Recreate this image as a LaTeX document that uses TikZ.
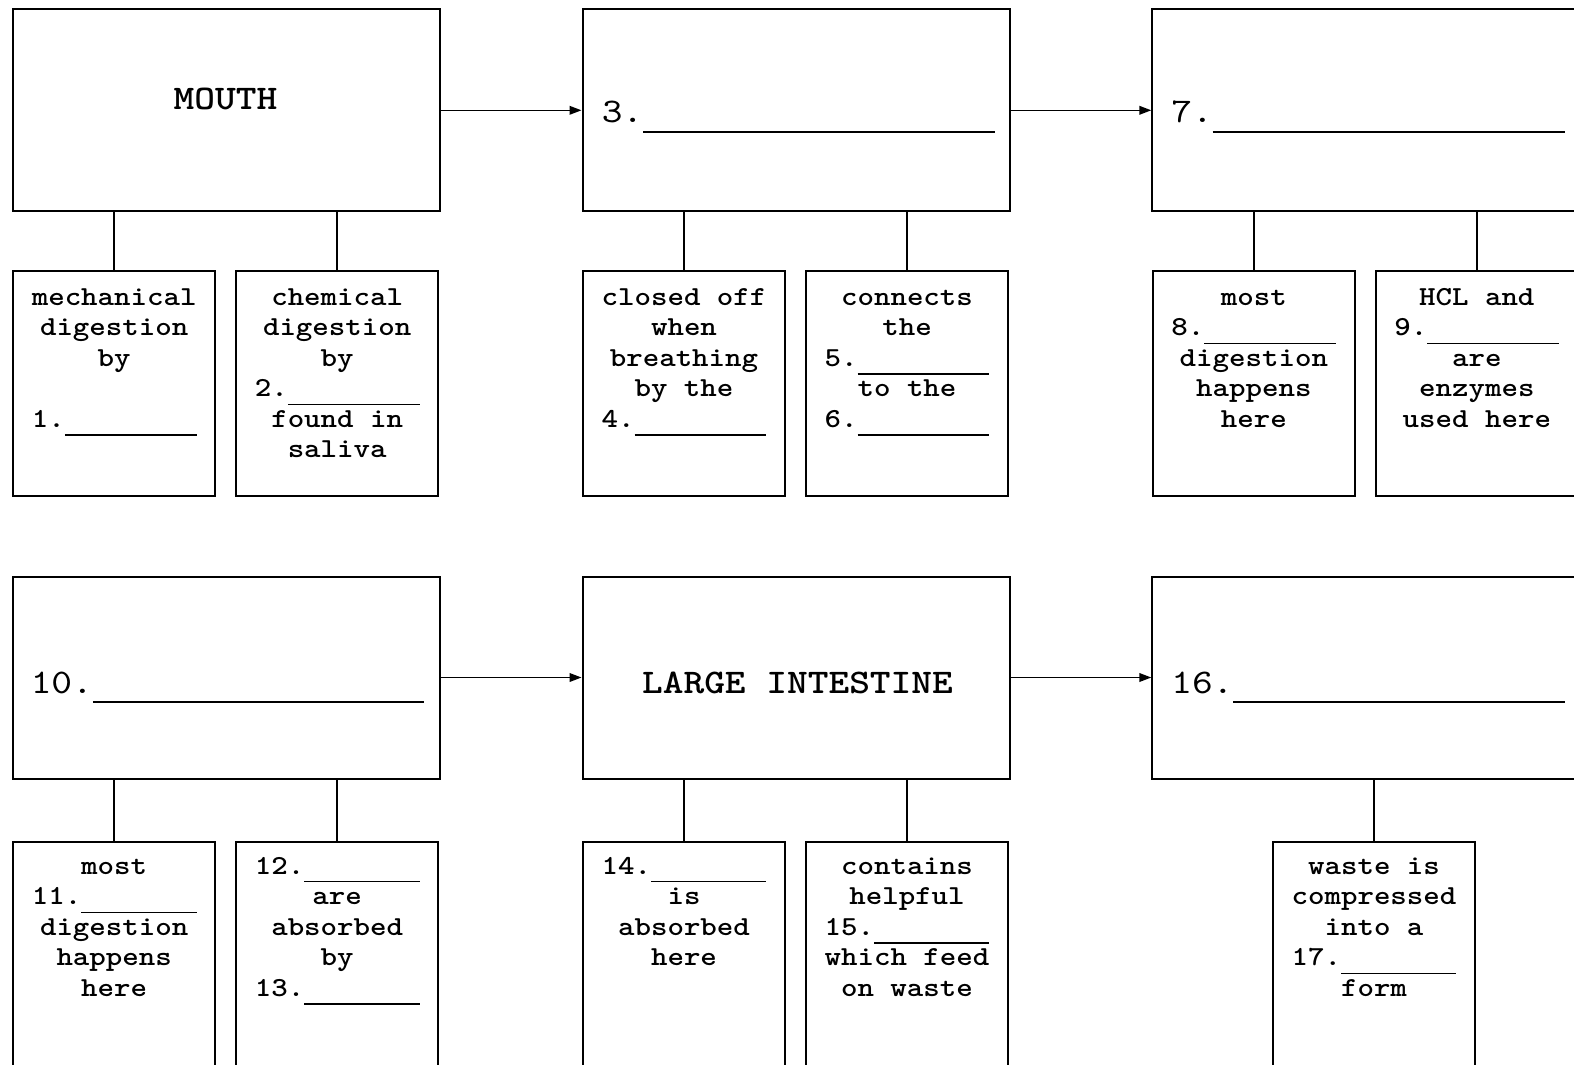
\documentclass[tikz,border=0pt]{standalone}
\usepackage{fontspec}
\usetikzlibrary{arrows.meta}
\newfontfamily\monoreg{lmmono10-regular.otf}[FakeStretch=1.143]
\newfontfamily\monobold{lmmonolt10-bold.otf}[FakeStretch=1.143]
\newcommand\bigfont{\monoreg\fontsize{25.9}{29}\selectfont}
\newcommand\bigboldfont{\monobold\fontsize{25.9}{29}\selectfont}
\newcommand\smallfont{\monobold\fontsize{20.6}{22.9}\selectfont}
% a blank to fill in: #1 character cells wide, drawn as a rule below the baseline
\newcommand\fillblank[1]{\rule[-0.3em]{\dimexpr 0.6em*#1\relax}{0.055em}}
\begin{document}
\begin{tikzpicture}[x=0.75pt,y=-0.75pt,
  bigbox/.style={draw, line width=1.5pt, minimum width=320.25pt, minimum height=151.5pt, inner sep=0pt},
  smallbox/.style={draw, line width=1.5pt, minimum width=151.5pt, minimum height=168.75pt, inner sep=0pt},
  conn/.style={line width=1.2pt},
  arr/.style={line width=1.2pt, -{Triangle[length=9pt,width=6.5pt]}},
  bigtxt/.style={font=\bigfont, inner sep=0pt},
  bigbold/.style={font=\bigboldfont, inner sep=0pt},
  smalltxt/.style={font=\smallfont, align=center, inner sep=0pt, anchor=north}]
\useasboundingbox (0,0) rectangle (1574,1064);
\clip (0,0) rectangle (1574,1064);
\fill[white] (0,0) rectangle (1574,1064);

% big boxes
\node[bigbox] (b1) at (226.2,110.3) {};
\node[bigbox] (b2) at (796,110.3) {};
\node[bigbox] (b3) at (1365.8,110.3) {};
\node[bigbox] (b4) at (226.2,677.5) {};
\node[bigbox] (b5) at (796,677.5) {};
\node[bigbox] (b6) at (1365.8,677.5) {};

% big texts
\node[bigbold, anchor=base] (m) at (225.5,109) {MOUTH};
\node[bigtxt, anchor=base west] (n3) at (601.5,122.5) {3.\fillblank{17}};
\node[bigtxt, anchor=base west] (n7) at (1171,122.5) {7.\fillblank{17}};
\node[bigtxt, anchor=base west] (n10) at (30.5,693) {10.\fillblank{16}};
\node[bigbold, anchor=base] (li) at (797.5,693) {LARGE INTESTINE};
\node[bigtxt, anchor=base west] (n16) at (1171,693) {16.\fillblank{16}};

% arrows
\draw[arr] (b1.east) -- (b2.west);
\draw[arr] (b2.east) -- (b3.west);
\draw[arr] (b4.east) -- (b5.west);
\draw[arr] (b5.east) -- (b6.west);

% small boxes row 1
\node[smallbox] (s1) at (114.2,383.5) {};
\node[smallbox] (s2) at (337.2,383.5) {};
\node[smallbox] (s3) at (684,383.5) {};
\node[smallbox] (s4) at (907,383.5) {};
\node[smallbox] (s5) at (1253.8,383.5) {};
\node[smallbox] (s6) at (1476.8,383.5) {};
% small boxes row 2
\node[smallbox] (t1) at (114.2,954.5) {};
\node[smallbox] (t2) at (337.2,954.5) {};
\node[smallbox] (t3) at (684,954.5) {};
\node[smallbox] (t4) at (907,954.5) {};
\node[smallbox] (t5) at (1374,954.5) {};

% connectors
\draw[conn] (s1.north) -- (s1.north |- b1.south);
\draw[conn] (s2.north) -- (s2.north |- b1.south);
\draw[conn] (s3.north) -- (s3.north |- b2.south);
\draw[conn] (s4.north) -- (s4.north |- b2.south);
\draw[conn] (s5.north) -- (s5.north |- b3.south);
\draw[conn] (s6.north) -- (s6.north |- b3.south);
\draw[conn] (t1.north) -- (t1.north |- b4.south);
\draw[conn] (t2.north) -- (t2.north |- b4.south);
\draw[conn] (t3.north) -- (t3.north |- b5.south);
\draw[conn] (t4.north) -- (t4.north |- b5.south);
\draw[conn] (t5.north) -- (t5.north |- b6.south);

% small texts row 1
\node[smalltxt] (x1) at (114.2,283.6) {\strut mechanical\\digestion\\by\\[22.9pt]1.\fillblank{8}};
\node[smalltxt] (x2) at (337.2,283.6) {\strut chemical\\digestion\\by\\2.\fillblank{8}\\found in\\saliva};
\node[smalltxt] (x3) at (684,283.6) {\strut closed off\\when\\breathing\\by the\\4.\fillblank{8}};
\node[smalltxt] (x4) at (907,283.6) {\strut connects\\the\\5.\fillblank{8}\\to the\\6.\fillblank{8}};
\node[smalltxt] (x5) at (1253.8,283.6) {\strut most\\8.\fillblank{8}\\digestion\\happens\\here};
\node[smalltxt] (x6) at (1476.8,283.6) {\strut HCL and\\9.\fillblank{8}\\are\\enzymes\\used here};
% small texts row 2
\node[smalltxt] (y1) at (114.2,852.6) {\strut most\\11.\fillblank{7}\\digestion\\happens\\here};
\node[smalltxt] (y2) at (337.2,852.6) {\strut 12.\fillblank{7}\\are\\absorbed\\by\\13.\fillblank{7}};
\node[smalltxt] (y3) at (684,852.6) {\strut 14.\fillblank{7}\\is\\absorbed\\here};
\node[smalltxt] (y4) at (907,852.6) {\strut contains\\helpful\\15.\fillblank{7}\\which feed\\on waste};
\node[smalltxt] (y5) at (1374,852.6) {\strut waste is\\compressed\\into a\\17.\fillblank{7}\\form};
\end{tikzpicture}
\end{document}
